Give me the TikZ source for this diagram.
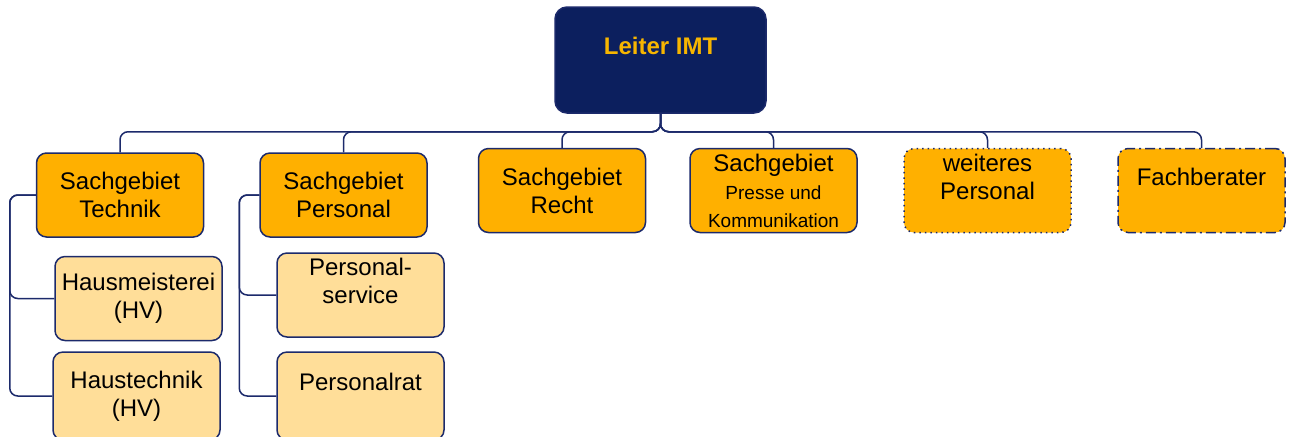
\documentclass[tikz,border=0pt]{standalone}
\usepackage{fontspec}
\setmainfont{Liberation Sans}
\usepackage{tikz}
\usetikzlibrary{positioning}
\usepackage{xcolor}
\definecolor{imtnavy}{HTML}{0C1F5E}
\definecolor{imtline}{HTML}{1C2A6B}
\definecolor{imtorange}{HTML}{FFB000}
\definecolor{imtlight}{HTML}{FFDE99}
\definecolor{imtgold}{HTML}{F7B500}
\tikzstyle{lead} = [rectangle, rounded corners=6pt, minimum width=105.5pt, minimum height=53pt, inner sep=0pt, align=center, draw=imtline, line width=0.75pt, fill=imtnavy, text=imtgold, font=\bfseries\fontsize{12}{14}\selectfont]
\tikzstyle{sachbox} = [rectangle, rounded corners=5pt, minimum width=83.5pt, minimum height=42pt, inner sep=0pt, align=center, draw=imtline, line width=0.75pt, fill=imtorange, font=\fontsize{12}{14}\selectfont]
\tikzstyle{subbox} = [sachbox, fill=imtlight]
\tikzstyle{conn} = [draw=imtline, line width=0.75pt, rounded corners=4pt]

\begin{document}
\begin{tikzpicture}[x=0.5pt, y=-0.5pt]
  \useasboundingbox (0,0) rectangle (1290,436);
  \clip (0,0) rectangle (1290,436);

  \node[lead] (leiter) at (660.5,60) {Leiter IMT\\~};

  % Sachgebiete
  \node[sachbox] (technik) at (120,195) {Sachgebiet\\Technik};
  \node[sachbox] (personal) at (343.5,195) {Sachgebiet\\Personal};
  \node[sachbox] (recht) at (562,190.5) {Sachgebiet\\Recht};
  \node[sachbox] (presse) at (773.5,190.5) {Sachgebiet\\{\fontsize{9.5}{14}\selectfont Presse und}\\{\fontsize{9.5}{14}\selectfont Kommunikation}};
  \node[sachbox, dotted] (weiteres) at (987.5,190.5) {weiteres\\Personal\\~};
  \node[sachbox, dash pattern={on 5pt off 2pt on 1pt off 2pt}] (fach) at (1201.5,190.5) {Fachberater\\~};

  % Untergeordnete Stellen
  \node[subbox] (hausm) at (138.5,298.5) {Hausmeisterei\\(HV)};
  \node[subbox, minimum height=44pt] (haustech) at (136.5,396) {Haustechnik\\(HV)};
  \node[subbox] (pservice) at (360.5,295) {Personal-\\service\\~};
  \node[subbox, minimum height=44pt] (prat) at (360.5,396) {Personalrat\\~};

  % Linien
  \foreach \child in {technik, personal, recht, presse, weiteres, fach}
    \draw[conn] (leiter.south) -- ++(0,18) -| (\child.north);
  \draw[conn] (technik.west) -- ++(-26,0) |- (hausm.west);
  \draw[conn] (technik.west) -- ++(-26,0) |- (haustech.west);
  \draw[conn] (personal.west) -- ++(-20,0) |- (pservice.west);
  \draw[conn] (personal.west) -- ++(-20,0) |- (prat.west);
\end{tikzpicture}
\end{document}
